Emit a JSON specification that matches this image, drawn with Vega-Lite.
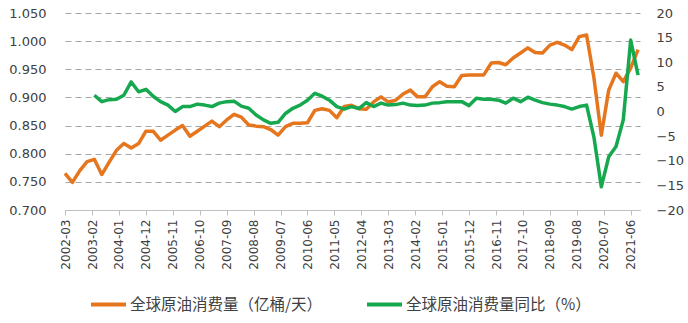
{
  "$schema": "https://vega.github.io/schema/vega-lite/v6.json",
  "width": 575,
  "height": 197,
  "autosize": {"type": "none"},
  "padding": {"left": 65, "top": 13, "right": 48, "bottom": 113},
  "background": "white",
  "config": {
    "view": {"stroke": null},
    "font": "DejaVu Sans",
    "axis": {"labelFont": "DejaVu Sans", "labelColor": "#404040", "title": null},
    "axisX": {"labelOverlap": false}
  },
  "data": {
    "values": [
      {"d": "2002-03-01", "c": 0.765, "g": null},
      {"d": "2002-06-01", "c": 0.749, "g": null},
      {"d": "2002-09-01", "c": 0.770, "g": null},
      {"d": "2002-12-01", "c": 0.786, "g": null},
      {"d": "2003-03-01", "c": 0.790, "g": 3.3},
      {"d": "2003-06-01", "c": 0.763, "g": 2.0},
      {"d": "2003-09-01", "c": 0.785, "g": 2.4},
      {"d": "2003-12-01", "c": 0.806, "g": 2.5},
      {"d": "2004-03-01", "c": 0.818, "g": 3.3},
      {"d": "2004-06-01", "c": 0.810, "g": 6.0},
      {"d": "2004-09-01", "c": 0.818, "g": 4.0},
      {"d": "2004-12-01", "c": 0.840, "g": 4.5},
      {"d": "2005-03-01", "c": 0.840, "g": 3.1},
      {"d": "2005-06-01", "c": 0.824, "g": 2.0},
      {"d": "2005-09-01", "c": 0.833, "g": 1.3},
      {"d": "2005-12-01", "c": 0.842, "g": 0.0},
      {"d": "2006-03-01", "c": 0.850, "g": 1.0},
      {"d": "2006-06-01", "c": 0.831, "g": 1.0},
      {"d": "2006-09-01", "c": 0.840, "g": 1.5},
      {"d": "2006-12-01", "c": 0.849, "g": 1.3},
      {"d": "2007-03-01", "c": 0.858, "g": 1.0},
      {"d": "2007-06-01", "c": 0.848, "g": 1.7},
      {"d": "2007-09-01", "c": 0.860, "g": 2.0},
      {"d": "2007-12-01", "c": 0.870, "g": 2.1},
      {"d": "2008-03-01", "c": 0.865, "g": 1.1},
      {"d": "2008-06-01", "c": 0.851, "g": 0.65},
      {"d": "2008-09-01", "c": 0.849, "g": -0.7},
      {"d": "2008-12-01", "c": 0.848, "g": -1.7},
      {"d": "2009-03-01", "c": 0.843, "g": -2.4},
      {"d": "2009-06-01", "c": 0.833, "g": -2.2},
      {"d": "2009-09-01", "c": 0.848, "g": -0.4},
      {"d": "2009-12-01", "c": 0.854, "g": 0.65},
      {"d": "2010-03-01", "c": 0.854, "g": 1.3},
      {"d": "2010-06-01", "c": 0.855, "g": 2.3},
      {"d": "2010-09-01", "c": 0.877, "g": 3.7},
      {"d": "2010-12-01", "c": 0.880, "g": 3.1},
      {"d": "2011-03-01", "c": 0.877, "g": 2.3},
      {"d": "2011-06-01", "c": 0.864, "g": 1.0},
      {"d": "2011-09-01", "c": 0.884, "g": 0.5},
      {"d": "2011-12-01", "c": 0.886, "g": 1.0},
      {"d": "2012-03-01", "c": 0.880, "g": 0.6},
      {"d": "2012-06-01", "c": 0.879, "g": 1.8},
      {"d": "2012-09-01", "c": 0.892, "g": 1.0},
      {"d": "2012-12-01", "c": 0.901, "g": 1.7},
      {"d": "2013-03-01", "c": 0.892, "g": 1.3},
      {"d": "2013-06-01", "c": 0.895, "g": 1.4},
      {"d": "2013-09-01", "c": 0.906, "g": 1.7},
      {"d": "2013-12-01", "c": 0.913, "g": 1.3},
      {"d": "2014-03-01", "c": 0.901, "g": 1.2},
      {"d": "2014-06-01", "c": 0.901, "g": 1.3},
      {"d": "2014-09-01", "c": 0.919, "g": 1.7},
      {"d": "2014-12-01", "c": 0.928, "g": 1.8},
      {"d": "2015-03-01", "c": 0.920, "g": 2.0},
      {"d": "2015-06-01", "c": 0.919, "g": 2.0},
      {"d": "2015-09-01", "c": 0.939, "g": 2.0},
      {"d": "2015-12-01", "c": 0.940, "g": 1.2},
      {"d": "2016-03-01", "c": 0.940, "g": 2.7},
      {"d": "2016-06-01", "c": 0.940, "g": 2.5},
      {"d": "2016-09-01", "c": 0.961, "g": 2.5},
      {"d": "2016-12-01", "c": 0.962, "g": 2.3},
      {"d": "2017-03-01", "c": 0.958, "g": 1.7},
      {"d": "2017-06-01", "c": 0.970, "g": 2.7},
      {"d": "2017-09-01", "c": 0.979, "g": 2.0},
      {"d": "2017-12-01", "c": 0.988, "g": 2.9},
      {"d": "2018-03-01", "c": 0.980, "g": 2.3},
      {"d": "2018-06-01", "c": 0.979, "g": 1.8},
      {"d": "2018-09-01", "c": 0.993, "g": 1.5},
      {"d": "2018-12-01", "c": 0.998, "g": 1.3},
      {"d": "2019-03-01", "c": 0.993, "g": 1.0},
      {"d": "2019-06-01", "c": 0.985, "g": 0.5},
      {"d": "2019-09-01", "c": 1.008, "g": 1.0},
      {"d": "2019-12-01", "c": 1.011, "g": 1.3},
      {"d": "2020-03-01", "c": 0.935, "g": -5.2},
      {"d": "2020-06-01", "c": 0.833, "g": -15.3},
      {"d": "2020-09-01", "c": 0.913, "g": -9.2},
      {"d": "2020-12-01", "c": 0.943, "g": -7.1},
      {"d": "2021-03-01", "c": 0.928, "g": -1.7},
      {"d": "2021-06-01", "c": 0.952, "g": 14.5},
      {"d": "2021-09-01", "c": 0.985, "g": 7.4}
    ]
  },
  "encoding": {
    "x": {
      "field": "d",
      "type": "temporal",
      "scale": {
        "type": "utc",
        "nice": false,
        "domain": [
          {"year": 2002, "month": 3, "date": 1, "utc": true},
          {"year": 2021, "month": 9, "date": 25, "utc": true}
        ]
      },
      "axis": {
        "values": [
          {"year": 2002, "month": 3, "date": 1, "utc": true},
          {"year": 2003, "month": 2, "date": 1, "utc": true},
          {"year": 2004, "month": 1, "date": 1, "utc": true},
          {"year": 2004, "month": 12, "date": 1, "utc": true},
          {"year": 2005, "month": 11, "date": 1, "utc": true},
          {"year": 2006, "month": 10, "date": 1, "utc": true},
          {"year": 2007, "month": 9, "date": 1, "utc": true},
          {"year": 2008, "month": 8, "date": 1, "utc": true},
          {"year": 2009, "month": 7, "date": 1, "utc": true},
          {"year": 2010, "month": 6, "date": 1, "utc": true},
          {"year": 2011, "month": 5, "date": 1, "utc": true},
          {"year": 2012, "month": 4, "date": 1, "utc": true},
          {"year": 2013, "month": 3, "date": 1, "utc": true},
          {"year": 2014, "month": 2, "date": 1, "utc": true},
          {"year": 2015, "month": 1, "date": 1, "utc": true},
          {"year": 2015, "month": 12, "date": 1, "utc": true},
          {"year": 2016, "month": 11, "date": 1, "utc": true},
          {"year": 2017, "month": 10, "date": 1, "utc": true},
          {"year": 2018, "month": 9, "date": 1, "utc": true},
          {"year": 2019, "month": 8, "date": 1, "utc": true},
          {"year": 2020, "month": 7, "date": 1, "utc": true},
          {"year": 2021, "month": 6, "date": 1, "utc": true}
        ],
        "format": "%Y-%m",
        "labelAngle": -90,
        "labelFontSize": 12,
        "labelPadding": 4,
        "labelOverlap": false,
        "labelFlush": false,
        "labelSeparation": 0,
        "tickSize": 5,
        "tickColor": "#BFBFBF",
        "domainColor": "#BFBFBF",
        "grid": false,
        "title": null
      }
    }
  },
  "layer": [
    {
      "mark": {"type": "line", "strokeWidth": 3.5, "strokeJoin": "round"},
      "encoding": {
        "y": {
          "field": "c",
          "type": "quantitative",
          "scale": {"domain": [0.7, 1.05], "nice": false, "zero": false},
          "axis": {
            "orient": "left",
            "values": [0.7, 0.75, 0.8, 0.85, 0.9, 0.95, 1.0, 1.05],
            "format": ".3f",
            "grid": true,
            "gridDash": [6, 4],
            "gridColor": "#A6A6A6",
            "domain": false,
            "ticks": false,
            "labelPadding": 19,
            "labelFontSize": 13,
            "title": null
          }
        },
        "color": {
          "datum": "全球原油消费量（亿桶/天）",
          "type": "nominal",
          "scale": {
            "domain": ["全球原油消费量（亿桶/天）", "全球原油消费量同比（%）"],
            "range": ["#E5761E", "#16A84F"]
          },
          "legend": {
            "orient": "none",
            "legendX": 24,
            "legendY": 272,
            "direction": "horizontal",
            "title": null,
            "symbolType": "stroke",
            "symbolSize": 1225,
            "symbolStrokeWidth": 4,
            "labelFont": "Noto Sans CJK SC",
            "labelFontSize": 15.5,
            "labelColor": "#404040",
            "labelOffset": 2,
            "labelLimit": 400,
            "columnPadding": 36
          }
        }
      }
    },
    {
      "mark": {"type": "line", "strokeWidth": 3.5, "strokeJoin": "round"},
      "encoding": {
        "y": {
          "field": "g",
          "type": "quantitative",
          "scale": {"domain": [-20, 20], "nice": false, "zero": false},
          "axis": {
            "orient": "right",
            "values": [-20, -15, -10, -5, 0, 5, 10, 15, 20],
            "grid": false,
            "domain": false,
            "ticks": false,
            "labelPadding": 16,
            "labelFontSize": 13,
            "title": null
          }
        },
        "color": {"datum": "全球原油消费量同比（%）", "type": "nominal"}
      }
    }
  ],
  "resolve": {"scale": {"y": "independent"}}
}
